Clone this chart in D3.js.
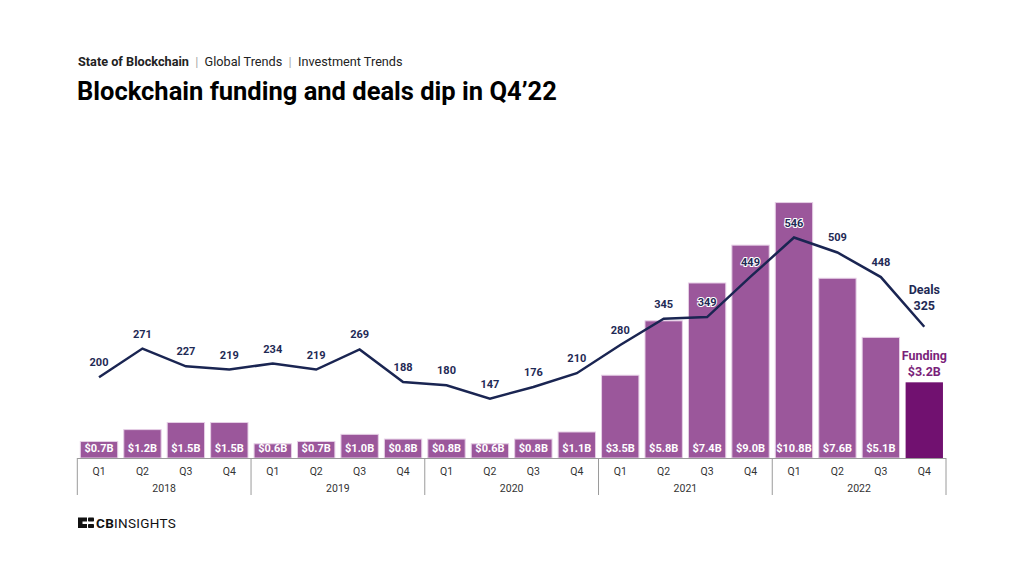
<!DOCTYPE html>
<html><head><meta charset="utf-8">
<script src="https://cdn.jsdelivr.net/npm/d3@7"></script>
<style>body{margin:0;background:#fff;}svg{display:block;font-family:Roboto,"Noto Sans",sans-serif;}</style>
</head><body><svg id="c" width="1024" height="576"></svg>
<script>
const quarters = ["Q1","Q2","Q3","Q4","Q1","Q2","Q3","Q4","Q1","Q2","Q3","Q4","Q1","Q2","Q3","Q4","Q1","Q2","Q3","Q4"];
const years = ["2018","2019","2020","2021","2022"];
const funding = [0.7,1.2,1.5,1.5,0.6,0.7,1.0,0.8,0.8,0.6,0.8,1.1,3.5,5.8,7.4,9.0,10.8,7.6,5.1,3.2];
const fundingLabels = ["$0.7B","$1.2B","$1.5B","$1.5B","$0.6B","$0.7B","$1.0B","$0.8B","$0.8B","$0.6B","$0.8B","$1.1B","$3.5B","$5.8B","$7.4B","$9.0B","$10.8B","$7.6B","$5.1B","$3.2B"];
const deals = [200,271,227,219,234,219,269,188,180,147,176,210,280,345,349,449,546,509,448,325];

const svg = d3.select("#c");
const idx = d3.range(funding.length);
const x = d3.scaleBand().domain(idx).range([77.3, 946]).paddingInner(0.14).paddingOuter(0.07);
const base = 458, plotTop = 200;
const yB = d3.scaleLinear().domain([0, (base-plotTop)/23.65]).range([base, plotTop]);
const yD = d3.scaleLinear().domain([0, (base-plotTop)/0.4038]).range([base, plotTop]);

// header
const h = svg.append("text").attr("x",78).attr("y",66).attr("font-size",12.7).attr("fill","#222").attr("xml:space","preserve");
h.append("tspan").attr("font-weight","bold").text("State of Blockchain");
h.append("tspan").attr("fill","#aaa").text("  |  ");
h.append("tspan").text("Global Trends");
h.append("tspan").attr("fill","#aaa").text("  |  ");
h.append("tspan").text("Investment Trends");
svg.append("text").attr("x",77).attr("y",100).attr("font-size",25.5).attr("font-weight","bold").attr("fill","#000")
  .text("Blockchain funding and deals dip in Q4\u201922");

// bars
svg.append("g").selectAll("rect").data(idx).join("rect")
  .attr("x", i=>x(i)).attr("width", x.bandwidth())
  .attr("y", i=>yB(funding[i])).attr("height", i=>base-yB(funding[i]))
  .attr("fill", i=> i===funding.length-1 ? "#711170" : "#9b579b")
  .attr("stroke", i=> i===funding.length-1 ? "none" : "#e6cfe6").attr("stroke-width",1);
svg.append("g").selectAll("text").data(idx.slice(0,-1)).join("text")
  .attr("x", i=>x(i)+x.bandwidth()/2).attr("y", base-6)
  .attr("text-anchor","middle").attr("font-size",11).attr("font-weight","bold").attr("fill","#fff")
  .text(i=>fundingLabels[i]);

// axis frame
const step = x.step();
const ax = svg.append("g").attr("stroke","#9a9a9a").attr("stroke-width",1);
ax.append("line").attr("x1",77.3).attr("x2",946).attr("y1",base+0.5).attr("y2",base+0.5);
for (let k=0;k<=5;k++){
  const xx = 77.3 + k*4*step;
  ax.append("line").attr("x1",xx).attr("x2",xx).attr("y1",base).attr("y2",495);
}
svg.append("g").selectAll("text").data(idx).join("text")
  .attr("x", i=>x(i)+x.bandwidth()/2).attr("y", 475)
  .attr("text-anchor","middle").attr("font-size",10.5).attr("fill","#333").text(i=>quarters[i]);
svg.append("g").selectAll("text").data(years).join("text")
  .attr("x",(d,k)=>77.3 + (k*4+2)*step).attr("y",492)
  .attr("text-anchor","middle").attr("font-size",10.5).attr("fill","#333").text(d=>d);

// line
const line = d3.line().x(i=>x(i)+x.bandwidth()/2).y(i=>yD(deals[i]));
svg.append("path").datum(idx).attr("d",line).attr("fill","none").attr("stroke","#1a2552").attr("stroke-width",2.5);
svg.append("g").selectAll("text").data(idx.slice(0,-1)).join("text")
  .attr("x", i=>x(i)+x.bandwidth()/2).attr("y", i=>yD(deals[i])-11)
  .attr("text-anchor","middle").attr("font-size",11).attr("font-weight","bold").attr("fill","#1f2a55")
  .attr("stroke","#fff").attr("stroke-width",2).attr("paint-order","stroke").text(i=>deals[i]);

// end annotations
const lx = x(19)+x.bandwidth()/2;
svg.append("text").attr("x",lx).attr("y",294).attr("text-anchor","middle").attr("font-size",12.5).attr("font-weight","bold").attr("fill","#1f2a55").text("Deals");
svg.append("text").attr("x",lx).attr("y",310).attr("text-anchor","middle").attr("font-size",12.5).attr("font-weight","bold").attr("fill","#1f2a55").text(deals[19]);
svg.append("text").attr("x",lx).attr("y",360).attr("text-anchor","middle").attr("font-size",12.5).attr("font-weight","bold").attr("fill","#7a1f7a").text("Funding");
svg.append("text").attr("x",lx).attr("y",376).attr("text-anchor","middle").attr("font-size",12.5).attr("font-weight","bold").attr("fill","#7a1f7a").text(fundingLabels[19]);

// logo
const lg = svg.append("g").attr("fill","#111");
lg.append("path").attr("d","M78,517.5 h9 v4 h-4.5 v2.5 h4.5 v4 h-9 z");
lg.append("rect").attr("x",88).attr("y",517.5).attr("width",6).attr("height",4).attr("rx",0.8);
lg.append("rect").attr("x",88).attr("y",524).attr("width",6).attr("height",4).attr("rx",0.8);
const lt = svg.append("text").attr("x",96).attr("y",528).attr("font-size",13.5).attr("fill","#111").attr("letter-spacing",0.3);
lt.append("tspan").attr("font-weight","bold").text("CB");
lt.append("tspan").text("INSIGHTS");
</script></body></html>
